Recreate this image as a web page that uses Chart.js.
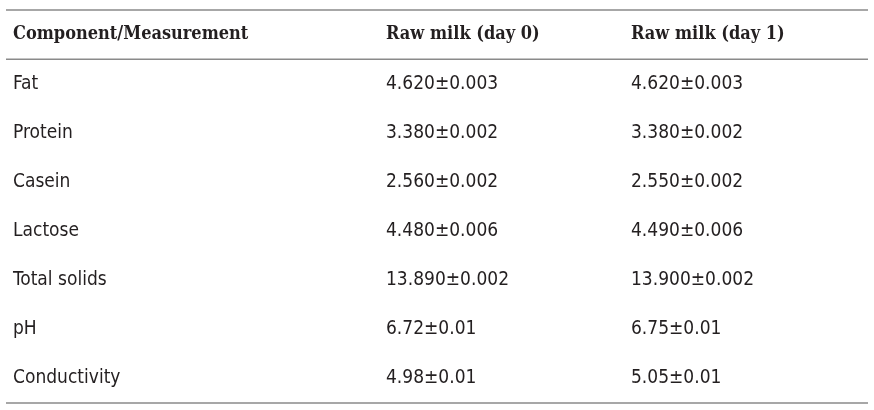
<!DOCTYPE html>
<html>
<head>
<meta charset="utf-8">
<script src="https://cdn.jsdelivr.net/npm/chart.js@4"></script>
<style>
  html, body { margin: 0; padding: 0; background: #fff; }
  #wrap { width: 874px; height: 410px; position: relative; }
</style>
</head>
<body>
<div id="wrap"><canvas id="chart1"></canvas></div>
<script>
// table content
const headers = ["Component/Measurement", "Raw milk (day 0)", "Raw milk (day 1)"];
const components = ["Fat", "Protein", "Casein", "Lactose", "Total solids", "pH", "Conductivity"];
const day0 = ["4.620±0.003", "3.380±0.002", "2.560±0.002", "4.480±0.006", "13.890±0.002", "6.72±0.01", "4.98±0.01"];
const day1 = ["4.620±0.003", "3.380±0.002", "2.550±0.002", "4.490±0.006", "13.900±0.002", "6.75±0.01", "5.05±0.01"];

// layout: left edge of each column inside the chart area (px)
const colStart = [7, 380, 625];
const headFont = "bold 18px 'DejaVu Serif Condensed'";
const bodyFont = "19px 'DejaVu Sans Condensed'";

const rowLabels = ["__head"].concat(components);
const columns = [components, day0, day1];

// one invisible point per cell, text is drawn on top of it
const cells = [];
headers.forEach((h, c) => cells.push({ x: colStart[c], y: "__head", text: h, head: true }));
columns.forEach((col, c) => {
    col.forEach((v, r) => cells.push({ x: colStart[c], y: components[r], text: v, head: false }));
});

const tablePlugin = {
    id: "tableText",
    afterDatasetsDraw(chart) {
        const ctx = chart.ctx;
        const area = chart.chartArea;
        const yScale = chart.scales.y;
        const meta = chart.getDatasetMeta(0);

        // horizontal rules: top, under header, bottom
        const under = (yScale.getPixelForValue(0) + yScale.getPixelForValue(1)) / 2;
        ctx.save();
        ctx.strokeStyle = "#8a8a8a";
        ctx.lineWidth = 1.5;
        [area.top, under, area.bottom].forEach(y => {
            ctx.beginPath();
            ctx.moveTo(area.left, y);
            ctx.lineTo(area.right, y);
            ctx.stroke();
        });

        ctx.fillStyle = "#231f20";
        ctx.textAlign = "left";
        ctx.textBaseline = "middle";
        meta.data.forEach((pt, i) => {
            const cell = cells[i];
            ctx.font = cell.head ? headFont : bodyFont;
            ctx.fillText(cell.text, pt.x, pt.y);
        });
        ctx.restore();
    }
};

const c1 = document.getElementById("chart1");
const chartObject1 = new Chart(c1, {
    type: "scatter",
    data: {
        datasets: [{
            data: cells,
            pointRadius: 0,
            pointHoverRadius: 0
        }]
    },
    options: {
        responsive: true,
        maintainAspectRatio: false,
        animation: false,
        events: [],
        layout: { padding: { left: 6, right: 6, top: 10, bottom: 7 } },
        plugins: { legend: { display: false }, tooltip: { enabled: false } },
        scales: {
            x: { type: "linear", min: 0, max: 862, display: false },
            y: { type: "category", labels: rowLabels, offset: true, display: false }
        }
    },
    plugins: [tablePlugin]
});
</script>
</body>
</html>
